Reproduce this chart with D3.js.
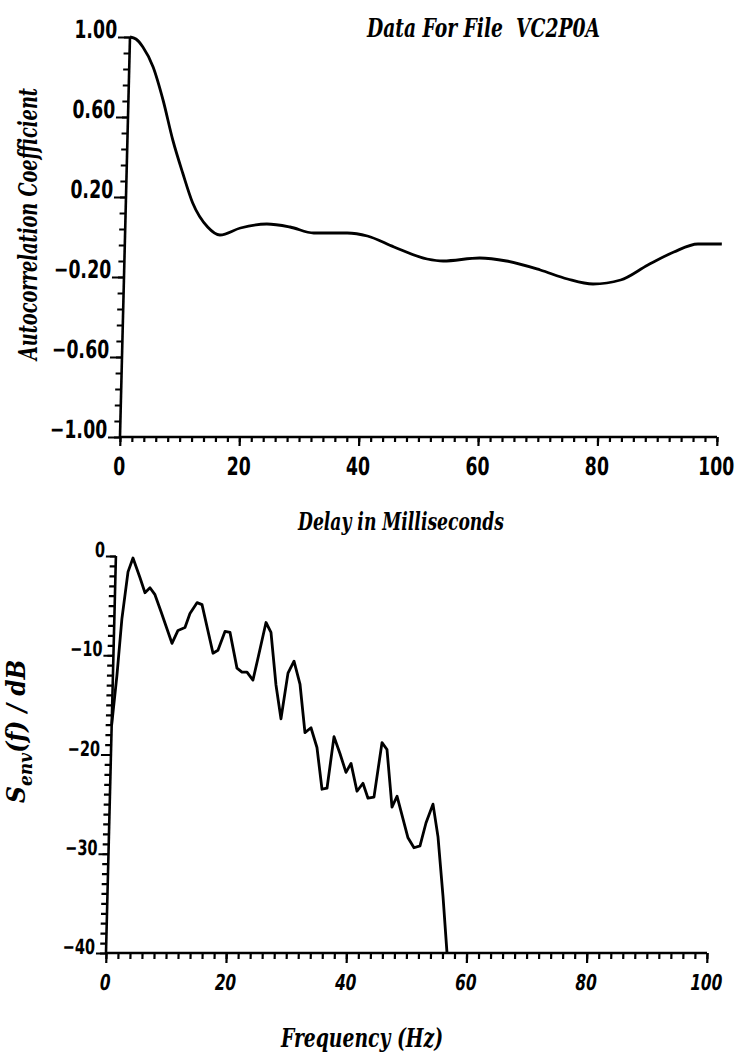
<!DOCTYPE html>
<html>
<head>
<meta charset="utf-8">
<script src="https://cdn.jsdelivr.net/npm/d3@7"></script>
<style>
  html, body { margin: 0; padding: 0; background: #fff; }
  svg { display: block; }
  .tick-label { font-family: "DejaVu Sans Condensed", "DejaVu Sans", sans-serif; font-weight: bold; fill: #000; }
  .title { font-family: "DejaVu Serif Condensed", "DejaVu Serif", serif; font-style: italic; font-weight: bold; fill: #000; }
</style>
</head>
<body>
<svg id="chart" width="747" height="1062"></svg>
<script>
// ---- Autocorrelation of the envelope (delay in ms -> coefficient)
const delayMs = [0, 1, 2.2, 4, 5.8, 7.6, 9.4, 11.2, 13.8, 15.9, 19.3, 23.7, 27.6, 31.6, 37.2, 40.6,
                 45.1, 50.7, 53.4, 59.5, 64, 69.7, 74.3, 78.6, 83.2, 87.7, 92, 96, 100];
const autocorr = [1.0, 0.99, 0.95, 0.85, 0.685, 0.485, 0.32, 0.17, 0.05, 0.01, 0.045, 0.065, 0.05, 0.02, 0.02, 0.005,
                  -0.05, -0.11, -0.12, -0.105, -0.12, -0.165, -0.21, -0.235, -0.215, -0.14, -0.075, -0.035, -0.035];
const acMajorTicks = [1.0, 0.6, 0.2, -0.2, -0.6, -1.0];
const acTickLabels = ["1.00", "0.60", "0.20", "\u22120.20", "\u22120.60", "\u22121.00"];

// ---- Envelope spectrum (frequency in Hz -> level in dB)
const freqHz = [0, 0.67, 1.26, 2.08, 2.85, 4.1, 4.99, 5.8, 6.66, 7.73, 9.69, 10.64, 11.79, 12.56, 13.69, 14.53,
                16.56, 17.37, 18.46, 19.3, 20.61, 21.46, 22.29, 23.32, 24.06, 25.25, 26.12, 27.17, 28.14, 29.12,
                30.07, 31.16, 32.19, 33.17, 34.25, 35.26, 36.09, 37.04, 38.1, 39.18, 39.98, 41.09, 42.05, 42.95,
                43.94, 45.05, 45.91, 46.98, 47.77, 49.77, 50.81, 51.8, 52.7, 53.79, 54.76, 55.84, 56.74];
const envDb = [-17, -12.0, -6.3, -1.6, -0.2, -2.2, -3.7, -3.2, -3.9, -5.6, -8.8, -7.5, -7.2, -5.8, -4.7, -4.9,
               -9.8, -9.5, -7.6, -7.7, -11.3, -11.7, -11.7, -12.5, -10.3, -6.7, -7.7, -13.0, -16.4, -11.8,
               -10.6, -12.9, -17.8, -17.3, -19.3, -23.5, -23.4, -18.2, -19.9, -21.8, -20.9, -23.7, -22.9, -24.4,
               -24.3, -18.8, -19.5, -25.3, -24.2, -28.4, -29.4, -29.2, -26.9, -25.0, -28.3, -34.3, -40];
const dbMajorTicks = [0, -10, -20, -30, -40];
const dbTickLabels = ["0", "\u221210", "\u221220", "\u221230", "\u221240"];

const xMajorTicks = [0, 20, 40, 60, 80, 100];
const xTickLabels = ["0", "20", "40", "60", "80", "100"];

const svg = d3.select("#chart");
const SKEW = -1.43;     // slight lean of the plotted frame
const SQUEEZE = 0.77;   // narrow plotter-style numerals

function panel(opts) {
  const { x, y, yBase, xMinor, yMinor, yMajor, yLabels, yFont, xFont, xItalic,
          yTickMajor, yTickMinor, xTickMajor, xTickMinor, xLabelOffset } = opts;
  const g = svg.append("g")
    .attr("transform", `translate(0,${yBase}) skewX(${SKEW}) translate(0,${-yBase})`);

  const x0 = x.range()[0], x1 = x.range()[1];
  const yTop = y.range()[1], yBot = y.range()[0];

  // x axis: minor and major ticks pointing down
  const xMinorAxis = d3.axisBottom(x).tickValues(xMinor).tickFormat("").tickSize(xTickMinor).tickSizeOuter(0);
  const xMajorAxis = d3.axisBottom(x).tickValues(xMajorTicks).tickFormat("").tickSize(xTickMajor).tickSizeOuter(0);
  [xMinorAxis, xMajorAxis].forEach(ax => {
    const a = g.append("g").attr("transform", `translate(0,${yBot})`).call(ax);
    a.select(".domain").remove();
    a.selectAll("line").attr("stroke", "#000").attr("stroke-width", 2.2);
  });

  // y axis: minor and major ticks pointing left
  const yMinorAxis = d3.axisLeft(y).tickValues(yMinor).tickFormat("").tickSize(yTickMinor).tickSizeOuter(0);
  const yMajorAxis = d3.axisLeft(y).tickValues(yMajor).tickFormat("").tickSize(yTickMajor).tickSizeOuter(0);
  [yMinorAxis, yMajorAxis].forEach(ax => {
    const a = g.append("g").attr("transform", `translate(${x0},0)`).call(ax);
    a.select(".domain").remove();
    a.selectAll("line").attr("stroke", "#000").attr("stroke-width", 2.2);
  });

  // axis lines
  g.append("line").attr("x1", x0).attr("x2", x1).attr("y1", yBot).attr("y2", yBot)
    .attr("stroke", "#000").attr("stroke-width", 2.6);
  g.append("line").attr("x1", x0).attr("x2", x0).attr("y1", yTop).attr("y2", yBot)
    .attr("stroke", "#000").attr("stroke-width", 2.6);

  // y tick labels sit on the tick
  g.selectAll(null).data(yMajor).enter().append("text")
    .attr("class", "tick-label")
    .attr("transform", d => `translate(${x0 - yTickMajor - 1},${y(d) + 1}) scale(${SQUEEZE},1)`)
    .attr("text-anchor", "end")
    .attr("font-size", yFont)
    .text((d, i) => yLabels[i]);

  // x tick labels
  g.selectAll(null).data(xMajorTicks).enter().append("text")
    .attr("class", "tick-label")
    .attr("transform", d => `translate(${x(d)},${yBot + xLabelOffset}) scale(${SQUEEZE},1)`)
    .attr("text-anchor", "middle")
    .attr("font-size", xFont)
    .attr("font-style", xItalic ? "italic" : "normal")
    .text((d, i) => xTickLabels[i]);

  return g;
}

// ---------- Top panel: autocorrelation ----------
const xTop = d3.scaleLinear().domain([0, 100]).range([120, 717]);
const yTop = d3.scaleLinear().domain([-1, 1]).range([437, 37]);
const gTop = panel({
  x: xTop, y: yTop, yBase: 437,
  xMinor: d3.range(0, 101, 2), yMinor: d3.range(0, 26).map(i => -1 + i * 0.08),
  yMajor: acMajorTicks, yLabels: acTickLabels,
  yFont: 25, xFont: 25, xItalic: false,
  yTickMajor: 12, yTickMinor: 6, xTickMajor: 9, xTickMinor: 5, xLabelOffset: 38
});
gTop.append("path")
  .datum(delayMs.map((d, i) => [d, autocorr[i]]))
  .attr("fill", "none").attr("stroke", "#000").attr("stroke-width", 2.8)
  .attr("stroke-linejoin", "round")
  .attr("d", d3.line().x(d => xTop(d[0])).y(d => yTop(d[1])).curve(d3.curveMonotoneX));

// ---------- Bottom panel: envelope spectrum ----------
const xBot = d3.scaleLinear().domain([0, 100]).range([106, 707]);
const yBot = d3.scaleLinear().domain([-40, 0]).range([953, 556]);
const gBot = panel({
  x: xBot, y: yBot, yBase: 953,
  xMinor: d3.range(0, 101, 2), yMinor: d3.range(-40, 1, 1),
  yMajor: dbMajorTicks, yLabels: dbTickLabels,
  yFont: 21, xFont: 22, xItalic: true,
  yTickMajor: 10, yTickMinor: 6, xTickMajor: 10, xTickMinor: 6, xLabelOffset: 37
});
gBot.append("path")
  .datum(freqHz.map((d, i) => [d, envDb[i]]))
  .attr("fill", "none").attr("stroke", "#000").attr("stroke-width", 2.8)
  .attr("stroke-linejoin", "round")
  .attr("d", d3.line().x(d => xBot(d[0])).y(d => yBot(d[1])));

// ---------- Titles ----------
svg.append("text").attr("class", "title")
  .attr("x", 367).attr("y", 37).attr("font-size", 26)
  .attr("textLength", 233).attr("lengthAdjust", "spacingAndGlyphs")
  .attr("xml:space", "preserve")
  .text("Data For File  VC2P0A");

svg.append("text").attr("class", "title")
  .attr("transform", "translate(37,360) rotate(-90)")
  .attr("font-size", 26)
  .attr("textLength", 272).attr("lengthAdjust", "spacingAndGlyphs")
  .text("Autocorrelation Coefficient");

svg.append("text").attr("class", "title")
  .attr("x", 298).attr("y", 530).attr("font-size", 25)
  .attr("textLength", 206).attr("lengthAdjust", "spacingAndGlyphs")
  .text("Delay in Milliseconds");

svg.append("text").attr("class", "title")
  .attr("x", 281).attr("y", 1047).attr("font-size", 26)
  .attr("textLength", 162).attr("lengthAdjust", "spacingAndGlyphs")
  .text("Frequency (Hz)");

// y title of the spectrum: S_env(f) / dB
const sLabel = svg.append("text").attr("class", "title")
  .attr("transform", "translate(25,803) rotate(-90)")
  .attr("font-size", 26);
sLabel.append("tspan").text("S");
sLabel.append("tspan").attr("font-size", 19).attr("dy", 7).text("env");
sLabel.append("tspan").attr("dy", -7).text("(f) / dB");
</script>
</body>
</html>
